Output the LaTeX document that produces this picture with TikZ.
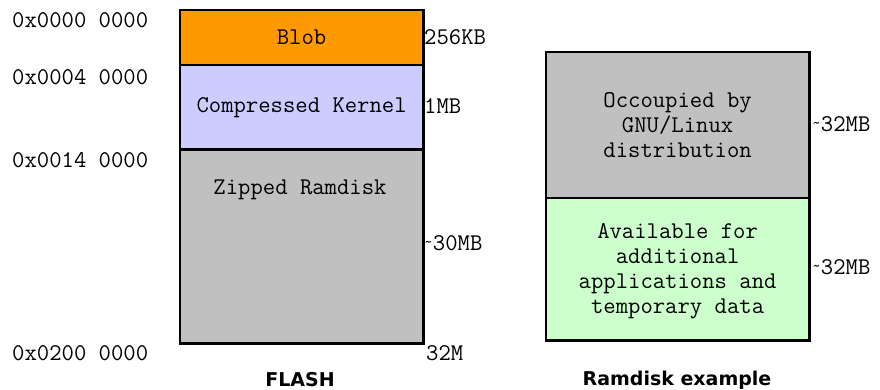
\documentclass[tikz,border=0pt]{standalone}
\usepackage{fontspec}
\newfontfamily\captionfont{DejaVu Sans}
\definecolor{bloborange}{RGB}{255,153,0}
\definecolor{kernelblue}{RGB}{204,204,255}
\definecolor{diskgray}{RGB}{192,192,192}
\definecolor{freegreen}{RGB}{204,255,204}
\newcommand{\approxsign}{\raisebox{0.25ex}{\fontsize{17}{17}\selectfont\char`\~}}

\begin{document}
\begin{tikzpicture}[x=1pt,y=-1pt,
	region/.style={draw,line width=1.2,inner sep=0,anchor=north west},
	frame/.style={line width=2.6},
	memtext/.style={inner sep=0,align=center,font=\ttfamily\fontsize{24}{25}\selectfont},
	addr/.style={inner sep=0,anchor=west,font=\ttfamily\fontsize{24}{25}\selectfont},
	caption/.style={inner sep=0,font=\captionfont\bfseries\fontsize{19}{22}\selectfont}]
	\useasboundingbox (0,0) rectangle (880,390);
	% FLASH layout
	\node[region,fill=bloborange,minimum width=242,minimum height=54] (blob) at (180,10) {};
	\node[region,fill=kernelblue,minimum width=242,minimum height=83] (kernel) at (blob.south west) {};
	\node[region,fill=diskgray,minimum width=242,minimum height=193] (zipped) at (kernel.south west) {};
	\draw[frame] (blob.north west) rectangle (zipped.south east);
	\node[memtext] (blobtext) at (blob.center) {Blob};
	\node[memtext] (kerneltext) at (kernel.center) {Compressed Kernel};
	\node[memtext] (zippedtext) at (300,190) {Zipped Ramdisk};
	\node[addr] (a0) at (12,20) {0x0000 0000};
	\node[addr] (a1) at (12,77) {0x0004 0000};
	\node[addr] (a2) at (12,160) {0x0014 0000};
	\node[addr] (a3) at (12,353) {0x0200 0000};
	\node[addr] (s0) at (424,37) {256KB};
	\node[addr] (s1) at (424,106) {1MB};
	\node[addr] (s2) at (424,243) {\approxsign 30MB};
	\node[addr] (s3) at (426,353) {32M};
	\node[caption] (flash) at (300,380) {FLASH};
	% Ramdisk layout
	\node[region,fill=diskgray,minimum width=262,minimum height=145] (used) at (546,52) {};
	\node[region,fill=freegreen,minimum width=262,minimum height=141] (free) at (used.south west) {};
	\draw[frame] (used.north west) rectangle (free.south east);
	\node[memtext] (usedtext) at (used.center) {Occoupied by\\GNU/Linux\\distribution};
	\node[memtext] (freetext) at ([yshift=-2]free.center) {Available for\\additional\\applications and\\temporary data};
	\node[addr] (s4) at (812,124) {\approxsign 32MB};
	\node[addr] (s5) at (812,267) {\approxsign 32MB};
	\node[caption] (ramdisk) at (677,380) {Ramdisk example};
\end{tikzpicture}
\end{document}
